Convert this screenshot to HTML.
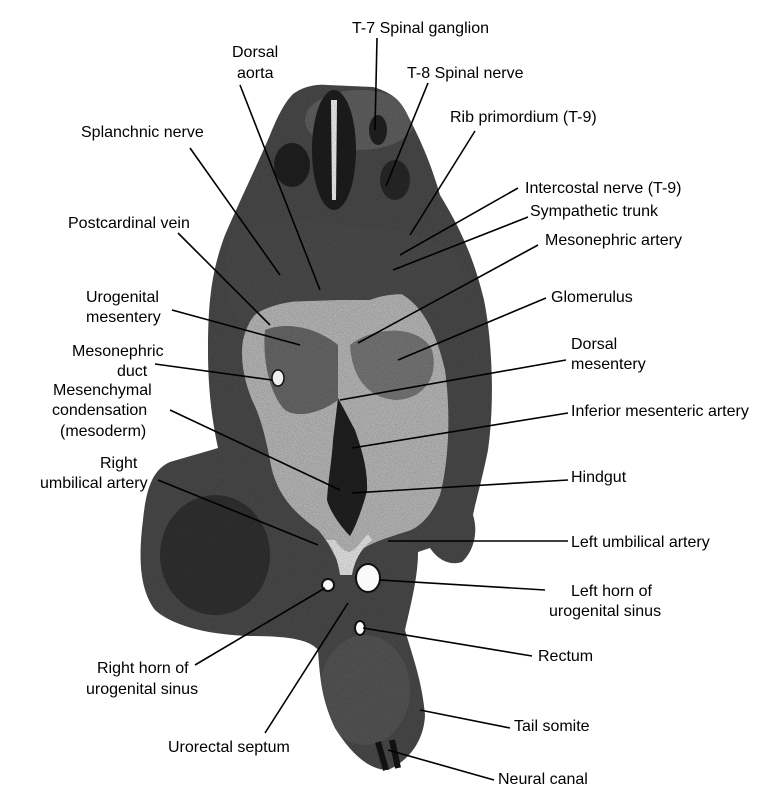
<!DOCTYPE html>
<html><head><meta charset="utf-8"><style>
html,body{margin:0;padding:0;background:#fff;}
svg{display:block;}
text{font-family:"Liberation Sans",sans-serif;font-size:16px;fill:#000;}
</style></head><body>
<svg width="782" height="800" viewBox="0 0 782 800" xmlns="http://www.w3.org/2000/svg">
<defs>
<clipPath id="body"><path d="M293,94 C305,85 320,84 327,85 L373,87 C390,92 398,98 405,110 C418,135 430,160 440,195 C455,220 472,250 484,300 C492,340 495,400 488,450 C482,480 476,500 473,515 C478,530 475,550 462,562 C450,566 438,560 430,548 L418,552 C418,575 412,600 405,630 C412,655 422,680 425,715 C424,740 410,760 388,770 C368,770 350,752 335,728 C322,700 320,680 318,650 C310,640 290,636 250,636 C215,635 175,628 155,610 C140,590 138,560 143,520 C146,490 152,470 170,462 C190,456 205,452 218,448 C212,420 208,390 208,350 C208,300 212,270 225,235 C240,200 255,170 270,135 C278,115 285,102 293,94 Z"/></clipPath>
<filter id="n" x="0" y="0" width="100%" height="100%"><feTurbulence type="fractalNoise" baseFrequency="0.9" numOctaves="2"/><feColorMatrix type="matrix" values="0 0 0 0 0  0 0 0 0 0  0 0 0 0 0  0.6 0 0 0 0"/></filter>
</defs>
<g clip-path="url(#body)">
<rect x="0" y="0" width="782" height="800" fill="#4e4e4e"/>
<ellipse cx="365" cy="690" rx="45" ry="55" fill="#5a5a5a"/>
<ellipse cx="360" cy="120" rx="55" ry="30" fill="#666"/>
<ellipse cx="215" cy="555" rx="55" ry="60" fill="#333"/>
<path d="M243,340 C248,320 258,305 280,302 L340,300 L393,290 C420,300 436,330 445,370 C452,420 447,470 440,495 C430,520 415,530 405,532 C380,540 365,545 355,555 L340,566 C332,550 327,540 318,530 C298,515 280,500 272,470 C266,440 262,420 252,400 C244,380 240,360 243,340 Z" fill="#c4c4c4"/>
<path d="M265,330 C290,320 320,330 338,345 L338,400 C325,410 300,420 285,410 C270,395 262,360 265,330 Z" fill="#6e6e6e"/>
<path d="M350,345 C375,325 420,325 432,350 C440,380 420,400 395,400 C370,398 352,380 350,345 Z" fill="#7e7e7e"/>
<path d="M230,240 C260,215 300,220 340,225 C380,228 420,230 450,250 C470,270 470,290 445,300 C420,295 395,290 370,300 L320,300 C290,300 255,305 240,330 C225,300 222,265 230,240 Z" fill="#505050"/>
<ellipse cx="334" cy="150" rx="22" ry="60" fill="#1f1f1f"/>
<path d="M331,100 L337,100 L336,200 L332,200 Z" fill="#fff"/>
<ellipse cx="292" cy="165" rx="18" ry="22" fill="#222"/>
<ellipse cx="378" cy="130" rx="9" ry="15" fill="#222"/>
<ellipse cx="395" cy="180" rx="15" ry="20" fill="#2a2a2a"/>
<path d="M338,398 L355,430 C362,450 368,470 367,491 C362,510 355,528 350,536 C342,528 330,512 327,500 C328,480 332,460 333,440 Z" fill="#222"/>
<path d="M335,540 C340,548 345,552 350,552 C358,548 362,540 368,534 L372,540 C360,550 355,560 352,575 L340,575 C338,560 333,548 326,540 Z" fill="#f4f4f4"/>
<rect x="0" y="0" width="782" height="800" filter="url(#n)" opacity="0.5"/>
</g>
<ellipse cx="368" cy="578" rx="12" ry="14" fill="#fafafa" stroke="#111" stroke-width="2"/>
<ellipse cx="328" cy="585" rx="6" ry="6" fill="#fafafa" stroke="#111" stroke-width="2"/>
<ellipse cx="360" cy="628" rx="5" ry="7" fill="#fafafa" stroke="#111" stroke-width="2"/>
<ellipse cx="278" cy="378" rx="6" ry="8" fill="#eee" stroke="#111" stroke-width="1.5"/>
<path d="M378,742 L386,770 M392,740 L398,768" stroke="#111" stroke-width="6"/>
<g stroke="#000" stroke-width="1.6" fill="none">
<line x1="377" y1="38" x2="375" y2="130"/>
<line x1="428" y1="83" x2="386" y2="186"/>
<line x1="240" y1="85" x2="320" y2="290"/>
<line x1="475" y1="131" x2="410" y2="235"/>
<line x1="190" y1="148" x2="280" y2="275"/>
<line x1="518" y1="188" x2="400" y2="255"/>
<line x1="528" y1="217" x2="393" y2="270"/>
<line x1="178" y1="233" x2="270" y2="325"/>
<line x1="538" y1="245" x2="358" y2="343"/>
<line x1="172" y1="310" x2="300" y2="345"/>
<line x1="546" y1="298" x2="398" y2="360"/>
<line x1="155" y1="364" x2="272" y2="380"/>
<line x1="566" y1="360" x2="340" y2="400"/>
<line x1="170" y1="410" x2="340" y2="490"/>
<line x1="568" y1="413" x2="352" y2="448"/>
<line x1="158" y1="480" x2="318" y2="545"/>
<line x1="568" y1="480" x2="352" y2="493"/>
<line x1="568" y1="541" x2="388" y2="541"/>
<line x1="545" y1="590" x2="380" y2="580"/>
<line x1="532" y1="656" x2="363" y2="628"/>
<line x1="195" y1="665" x2="325" y2="588"/>
<line x1="265" y1="733" x2="348" y2="603"/>
<line x1="510" y1="728" x2="420" y2="710"/>
<line x1="494" y1="780" x2="388" y2="750"/>
</g>
<text x="352" y="33">T-7 Spinal ganglion</text>
<text x="232" y="57">Dorsal</text>
<text x="237" y="78">aorta</text>
<text x="407" y="78">T-8 Spinal nerve</text>
<text x="450" y="122">Rib primordium (T-9)</text>
<text x="81" y="137">Splanchnic nerve</text>
<text x="525" y="193">Intercostal nerve (T-9)</text>
<text x="530" y="216">Sympathetic trunk</text>
<text x="68" y="228">Postcardinal vein</text>
<text x="545" y="245">Mesonephric artery</text>
<text x="86" y="302">Urogenital</text>
<text x="86" y="322">mesentery</text>
<text x="551" y="302">Glomerulus</text>
<text x="72" y="356">Mesonephric</text>
<text x="117" y="376">duct</text>
<text x="571" y="349">Dorsal</text>
<text x="571" y="369">mesentery</text>
<text x="53" y="395">Mesenchymal</text>
<text x="52" y="415">condensation</text>
<text x="60" y="436">(mesoderm)</text>
<text x="571" y="416">Inferior mesenteric artery</text>
<text x="100" y="468">Right</text>
<text x="40" y="488">umbilical artery</text>
<text x="571" y="482">Hindgut</text>
<text x="571" y="547">Left umbilical artery</text>
<text x="571" y="596">Left horn of</text>
<text x="549" y="616">urogenital sinus</text>
<text x="538" y="661">Rectum</text>
<text x="97" y="673">Right horn of</text>
<text x="86" y="694">urogenital sinus</text>
<text x="514" y="731">Tail somite</text>
<text x="168" y="752">Urorectal septum</text>
<text x="498" y="784">Neural canal</text>
</svg>
</body></html>
